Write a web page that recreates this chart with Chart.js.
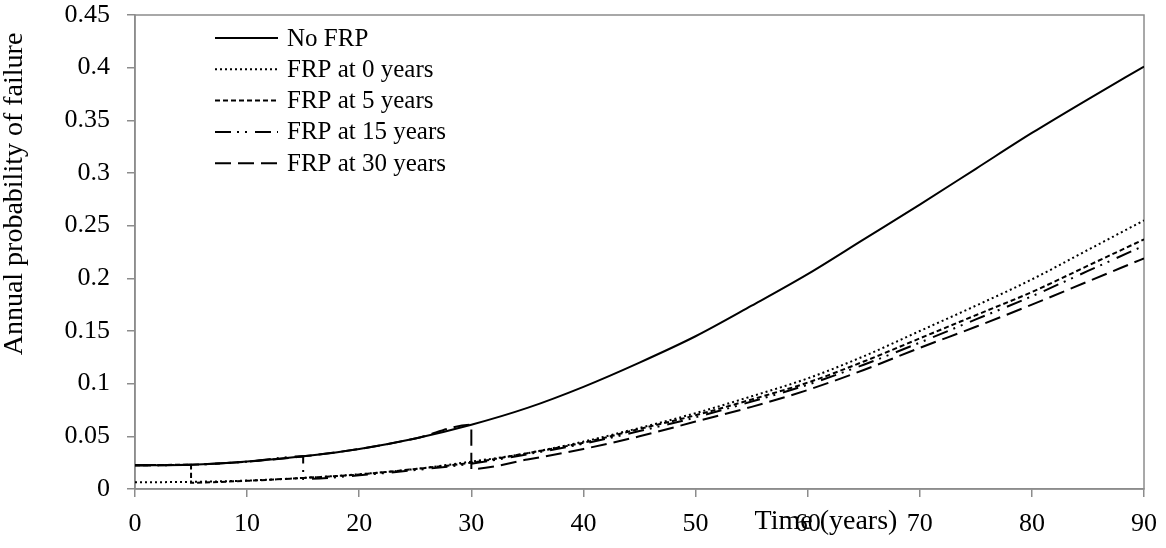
<!DOCTYPE html>
<html>
<head>
<meta charset="utf-8">
<script src="https://cdn.jsdelivr.net/npm/chart.js@4.4.1/dist/chart.umd.min.js"></script>
<style>
  html, body { margin: 0; padding: 0; background: #fff; }
  #wrap { width: 1166px; height: 548px; }
</style>
</head>
<body>
<div id="wrap"><canvas id="chart"></canvas></div>
<script>
// values
var years = [0, 5, 10, 15, 20, 25, 30, 35, 40, 45, 50, 55, 60, 65, 70, 75, 80, 85, 90];
var noFrp = [0.0225, 0.023, 0.026, 0.031, 0.038, 0.048, 0.061, 0.077, 0.097, 0.120, 0.145, 0.174, 0.204, 0.237, 0.270, 0.304, 0.338, 0.370, 0.401];
var frp0 = [0.0063, 0.0068, 0.008, 0.0105, 0.014, 0.019, 0.026, 0.034, 0.045, 0.058, 0.072, 0.088, 0.105, 0.126, 0.150, 0.174, 0.199, 0.227, 0.255];

var years5 = [0, 5, 5, 10, 15, 20, 25, 30, 35, 40, 45, 50, 55, 60, 65, 70, 75, 80, 85, 90];
var frp5 = [0.0225, 0.023, 0.006, 0.0078, 0.0105, 0.0138, 0.019, 0.025, 0.034, 0.044, 0.057, 0.070, 0.085, 0.101, 0.121, 0.143, 0.165, 0.187, 0.212, 0.237];

var years15 = [0, 5, 10, 15, 15, 20, 25, 30, 35, 40, 45, 50, 55, 60, 65, 70, 75, 80, 85, 90];
var frp15 = [0.0225, 0.023, 0.026, 0.031, 0.0095, 0.013, 0.018, 0.024, 0.033, 0.043, 0.055, 0.068, 0.083, 0.099, 0.118, 0.139, 0.161, 0.183, 0.207, 0.231];

var years30 = [0, 5, 10, 15, 20, 25, 30, 30, 35, 40, 45, 50, 55, 60, 65, 70, 75, 80, 85, 90];
var frp30 = [0.0225, 0.023, 0.026, 0.031, 0.038, 0.048, 0.061, 0.019, 0.028, 0.038, 0.050, 0.064, 0.078, 0.094, 0.113, 0.134, 0.154, 0.175, 0.197, 0.219];

var seriesNames = ['No FRP', 'FRP at 0 years', 'FRP at 5 years', 'FRP at 15 years', 'FRP at 30 years'];
var xTicks = ['0', '10', '20', '30', '40', '50', '60', '70', '80', '90'];
var yTicks = ['0', '0.05', '0.1', '0.15', '0.2', '0.25', '0.3', '0.35', '0.4', '0.45'];

var serif = "'Liberation Serif', 'DejaVu Serif', serif";
var axisGrey = '#8c8c8c';

function pts(xs, ys) {
  return xs.map(function (x, i) { return { x: x, y: ys[i] }; });
}

function line(label, data, dash) {
  return {
    label: label,
    data: data,
    borderColor: '#000',
    borderWidth: 2,
    borderDash: dash,
    pointRadius: 0,
    fill: false,
    cubicInterpolationMode: 'monotone'
  };
}

// plot-area frame, legend and axis titles, drawn the way the old spreadsheet did
var extras = {
  id: 'extras',
  beforeDatasetsDraw: function (chart) {
    var a = chart.chartArea, ctx = chart.ctx;
    ctx.save();
    ctx.strokeStyle = axisGrey;
    ctx.lineWidth = 1.5;
    ctx.strokeRect(a.left, a.top, a.right - a.left, a.bottom - a.top);
    ctx.restore();
  },
  afterDraw: function (chart) {
    var ctx = chart.ctx;
    ctx.save();
    // legend
    ctx.font = '25px ' + serif;
    ctx.textBaseline = 'middle';
    ctx.fillStyle = '#000';
    chart.data.datasets.forEach(function (ds, i) {
      var y = 38 + i * 31.3;
      ctx.beginPath();
      ctx.setLineDash(ds.borderDash || []);
      ctx.strokeStyle = '#000';
      ctx.lineWidth = 2;
      ctx.moveTo(215, y);
      ctx.lineTo(278, y);
      ctx.stroke();
      ctx.setLineDash([]);
      ctx.fillText(ds.label, 287, y + 1);
    });
    // x title (sits on top of the tick labels, as in the original)
    ctx.font = '28px ' + serif;
    ctx.textAlign = 'center';
    ctx.fillText('Time (years)', 826, 522);
    // y title
    ctx.textBaseline = 'alphabetic';
    ctx.translate(22, 194);
    ctx.rotate(-Math.PI / 2);
    ctx.fillText('Annual probability of failure', 0, 0);
    ctx.restore();
  }
};

var ctx = document.getElementById('chart').getContext('2d');
new Chart(ctx, {
  type: 'line',
  data: {
    datasets: [
      line(seriesNames[0], pts(years, noFrp), []),
      line(seriesNames[1], pts(years, frp0), [2, 3]),
      line(seriesNames[2], pts(years5, frp5), [5, 3]),
      line(seriesNames[3], pts(years15, frp15), [16, 6, 2, 6, 2, 8]),
      line(seriesNames[4], pts(years30, frp30), [16, 7])
    ]
  },
  options: {
    responsive: true,
    maintainAspectRatio: false,
    animation: false,
    layout: { padding: { top: 15, right: 22, left: 0, bottom: 0 } },
    plugins: {
      legend: { display: false },
      tooltip: { enabled: false }
    },
    scales: {
      x: {
        type: 'linear',
        min: 0,
        max: 90,
        ticks: {
          stepSize: 10,
          padding: 12,
          color: '#000',
          font: { family: serif, size: 26 },
          maxRotation: 0,
          callback: function (v) { return xTicks[Math.round(v / 10)]; }
        },
        grid: { drawOnChartArea: false, drawTicks: true, tickLength: 8, color: axisGrey, lineWidth: 1.5 },
        border: { color: axisGrey, width: 1.5 },
        afterFit: function (s) { s.height = 59; s.paddingLeft = 0; s.paddingRight = 0; }
      },
      y: {
        min: 0,
        max: 0.45,
        ticks: {
          stepSize: 0.05,
          padding: 17,
          color: '#000',
          font: { family: serif, size: 26 },
          callback: function (v) { return yTicks[Math.round(v / 0.05)]; }
        },
        grid: { drawOnChartArea: false, drawTicks: true, tickLength: 8, color: axisGrey, lineWidth: 1.5 },
        border: { color: axisGrey, width: 1.5 },
        afterFit: function (s) { s.width = 135; s.paddingTop = 0; s.paddingBottom = 0; }
      }
    }
  },
  plugins: [extras]
});
</script>
</body>
</html>
